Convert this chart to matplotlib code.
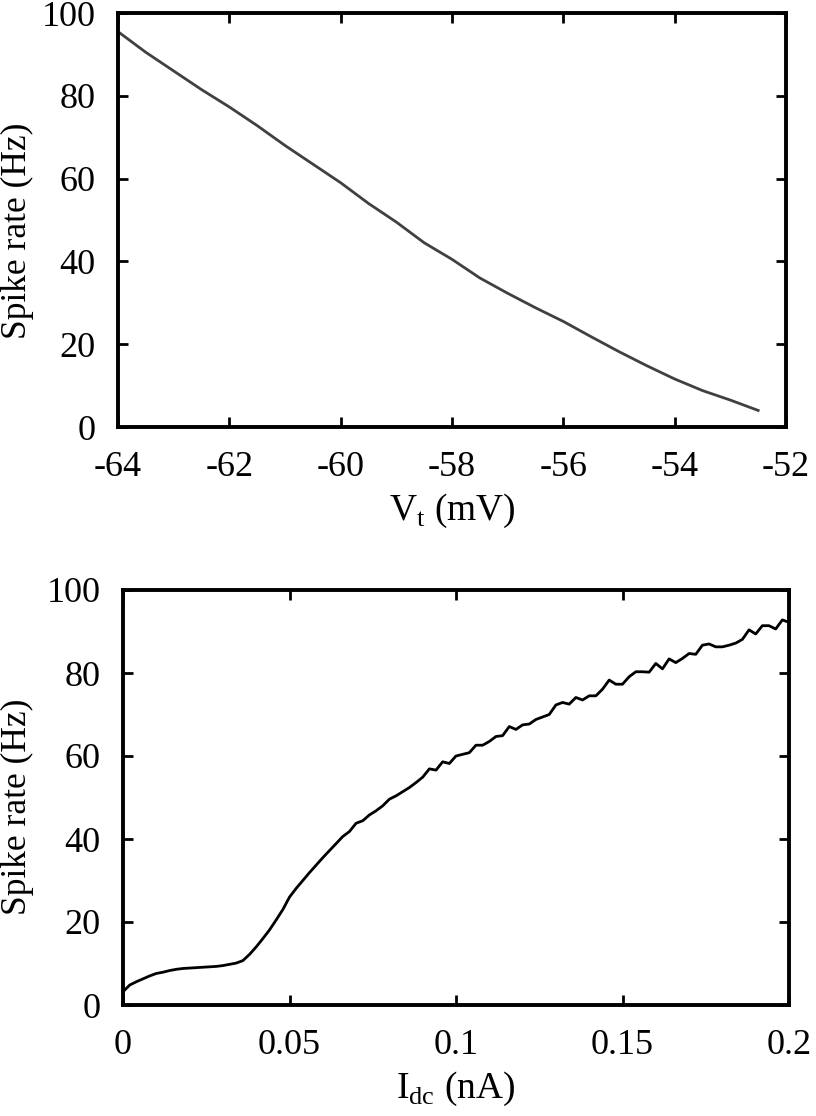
import matplotlib
matplotlib.use('Agg')
import matplotlib.pyplot as plt

plt.rcParams['font.family'] = ['Liberation Serif', 'DejaVu Serif']
plt.rcParams['mathtext.fontset'] = 'custom'
plt.rcParams['mathtext.rm'] = 'Liberation Serif'
plt.rcParams['axes.unicode_minus'] = False

# threshold sweep (top panel)
vt = [-64.0, -63.5, -63.0, -62.5, -62.0, -61.5, -61.0, -60.5, -60.0, -59.5,
      -59.0, -58.5, -58.0, -57.5, -57.0, -56.5, -56.0, -55.5, -55.0, -54.5,
      -54.0, -53.5, -53.0, -52.5]
rate_vt = [95.5, 90.5, 86.0, 81.5, 77.3, 72.8, 68.0, 63.5, 59.0, 54.0,
           49.5, 44.5, 40.5, 36.0, 32.3, 28.8, 25.5, 21.8, 18.2, 14.8,
           11.6, 8.8, 6.5, 4.0]

# dc current sweep (bottom panel), 0.002 nA steps
idc = [i * 0.002 for i in range(101)]
rate_idc = [3.2, 4.8, 5.6, 6.3, 7.0, 7.6, 7.9, 8.3, 8.6, 8.8,
            8.9, 9.0, 9.1, 9.2, 9.3, 9.5, 9.8, 10.1, 10.7, 12.2,
            14.0, 16.0, 18.1, 20.5, 23.0, 26.0, 28.1, 30.0, 31.9, 33.7,
            35.5, 37.2, 38.9, 40.6, 41.8, 43.8, 44.4, 45.8, 46.8, 48.0,
            49.6, 50.4, 51.4, 52.4, 53.6, 54.9, 56.9, 56.6, 58.6, 58.2,
            60.0, 60.4, 60.8, 62.6, 62.6, 63.5, 64.7, 64.9, 67.1, 66.4,
            67.5, 67.7, 68.8, 69.4, 70.0, 72.3, 72.9, 72.5, 74.1, 73.5,
            74.5, 74.5, 76.1, 78.3, 77.3, 77.3, 79.1, 80.3, 80.3, 80.2,
            82.3, 81.0, 83.4, 82.5, 83.5, 84.7, 84.5, 86.7, 87.0, 86.3,
            86.3, 86.7, 87.2, 88.1, 90.4, 89.4, 91.4, 91.4, 90.6, 92.8,
            92.2]

yticks = [0, 20, 40, 60, 80, 100]
fs = 26
xlfs = 27
ylfs = 25.5

fig = plt.figure(figsize=(8.16, 11.16), dpi=100)
ax1 = fig.add_axes([118 / 816, 1 - 427 / 1116, (786 - 118) / 816, (427 - 13) / 1116])
ax2 = fig.add_axes([123 / 816, 1 - 1005 / 1116, (789 - 123) / 816, (1005 - 590) / 1116])

ax1.plot(vt, rate_vt, color='#404040', lw=2.0)
ax1.set_xlim(-64, -52)
ax1.set_xticks([-64, -62, -60, -58, -56, -54, -52])
ax1.set_xlabel(r'V$_\mathrm{t}$ (mV)', fontsize=xlfs, labelpad=6)

ax2.plot(idc, rate_idc, color='black', lw=2.0)
ax2.set_xlim(0, 0.2)
ax2.set_xticks([0, 0.05, 0.1, 0.15, 0.2])
ax2.set_xticklabels(['0', '0.05', '0.1', '0.15', '0.2'])
ax2.set_xlabel(r'I$_\mathrm{dc}$ (nA)', fontsize=xlfs, labelpad=6)

for ax in (ax1, ax2):
    ax.set_ylim(0, 100)
    ax.set_yticks(yticks)
    ax.tick_params(direction='in', length=7, width=2, labelsize=fs,
                   top=True, right=True)
    ax.tick_params(axis='y', pad=16)
    ax.tick_params(axis='x', pad=17)
    for s in ax.spines.values():
        s.set_linewidth(2.8)

ax1.set_ylabel('Spike rate (Hz)', fontsize=ylfs)
ax2.set_ylabel('Spike rate (Hz)', fontsize=ylfs)
ax1.yaxis.set_label_coords((34 - 118) / 668, 0.473)
ax2.yaxis.set_label_coords((34 - 123) / 666, 0.477)

fig.savefig('out.png', dpi=100)
